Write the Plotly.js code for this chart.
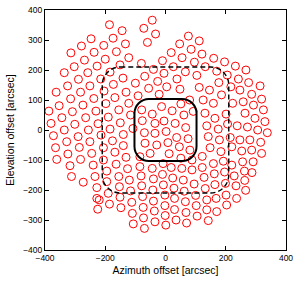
<!DOCTYPE html>
<html><head><meta charset="utf-8">
<script src="https://cdn.plot.ly/plotly-3.0.1.min.js"></script>
<style>html,body{margin:0;padding:0;background:#fff}#chart{width:299px;height:284px}</style>
</head><body><div id="chart"></div>
<script>
// Beam offsets [arcsec]
const azimuth = [
  -186,-44,-72,-144,-33,-247,-174,-60,-279,-205,-133,-314,-237,-163,-269,-200,-122,-303,-227,-151,-80,-10,-336,-258,-184,-40,-5,-289,-215,-141,-69,-100,-26,-325,-251,-173,-363,-282,-204,-131,-56,-21,-91,-315,-238,-168,-353,-274,-198,-122,-387,-309,-231,-155,-344,-265,-190,-116,-380,-301,-224,-150,
  -336,-256,-184,-372,-290,-214,-140,-328,-251,-176,-140,-365,-286,-206,-324,-245,-168,-131,-361,-282,-206,-317,-240,-164,-126,-312,-234,-195,-155,-273,-195,-228,-190,-153,-228,-220,-186,-151,-148,-225,-120,
  -116,-112,-110,-107,-85,-81,-79,-76,-74,-73,-70,-44,-40,-42,-40,-37,-35,-8,-10,-7,-2,-2,-1,1,
  19,24,28,30,30,35,54,59,62,66,68,70,88,95,100,102,105,122,128,132,137,137,142,159,162,164,168,170,192,196,199,201,203,220,228,234,236,256,262,263,266,291,287,
  122,148,184,220,253,286,319,142,179,215,247,280,316,137,175,206,238,272,306,338,131,164,201,264,297,330,125,159,223,258,292,325,186,146,247,286,319,217,112,314,276,
  76,112,47,85,19,121,55,160,196,96,26,132,232,267,66,170,205,104,38,242,177,48,4,80,
  -79,-44,-13,22,51,61,92,-77,-35,-5,32,67,-70,-35,2,37,75,8,-68,-29,46,81,-51,12,51,88,-85,-108
];
const elevation = [
  351,366,339,331,320,304,306,292,280,282,287,257,259,261,233,236,241,211,213,217,222,231,191,191,193,202,189,169,170,173,179,156,162,147,147,152,126,126,130,126,139,119,114,104,105,108,81,83,88,89,63,61,63,67,41,41,43,50,22,19,21,24,
  0,0,3,-19,-22,-17,-15,-39,-39,-36,-52,-59,-58,-59,-80,-78,-74,-91,-98,-98,-100,-119,-117,-114,-129,-155,-155,-137,-155,-174,-172,-192,-211,-189,-228,-233,-247,-224,-259,-264,-167,
  -203,-241,-278,-313,-122,-153,-186,-222,-258,-293,-328,-128,-163,-200,-237,-270,-306,-112,-148,-183,-217,-252,-285,-317,
  -125,-160,-194,-228,-265,-300,-128,-167,-204,-239,-275,-310,-133,-180,-218,-252,-287,-125,-158,-195,-233,-266,-302,-112,-146,-182,-228,-272,-104,-140,-178,-217,-250,-117,-153,-186,-228,-106,-137,-168,-201,-106,-142,
  -88,-59,-72,-56,-70,-67,-78,-22,-33,-25,-33,-33,-41,14,3,20,14,10,0,-9,56,39,53,56,39,28,100,89,89,94,83,67,117,133,133,119,103,144,142,147,158,
  313,297,287,269,258,253,241,239,227,226,211,211,213,200,194,196,183,182,170,170,158,136,144,100,
  67,53,78,64,87,50,62,31,22,30,22,8,-9,-11,-5,-25,-29,-42,-44,-50,-56,-67,-78,-79,-94,-100,-89,5
];
// Two rounded-square fields: inner (solid) and outer (dashed)
const boxHalfSize = [103, 210];
const boxCornerRadius = [48, 60];
const boxDash = ['solid', '5px,3px'];
const boxLineWidth = [2, 1.4];
const xTickValues = [-400, -200, 0, 200, 400];
const yTickValues = [-400, -300, -200, -100, 0, 100, 200, 300, 400];

function roundedSquarePath(h, r) {
  const k = 0.5523 * r;
  return [
    `M ${-h + r},${h}`, `L ${h - r},${h}`,
    `C ${h - r + k},${h} ${h},${h - r + k} ${h},${h - r}`,
    `L ${h},${-h + r}`,
    `C ${h},${-h + r - k} ${h - r + k},${-h} ${h - r},${-h}`,
    `L ${-h + r},${-h}`,
    `C ${-h + r - k},${-h} ${-h},${-h + r - k} ${-h},${-h + r}`,
    `L ${-h},${h - r}`,
    `C ${-h},${h - r + k} ${-h + r - k},${h} ${-h + r},${h}`, 'Z'
  ].join(' ');
}

const shapes = boxHalfSize.map((h, i) => ({
  type: 'path', xref: 'x', yref: 'y', layer: 'above',
  path: roundedSquarePath(h, boxCornerRadius[i]),
  line: {color: '#000', width: boxLineWidth[i], dash: boxDash[i]}
}));

const font = {family: 'Liberation Sans, Arial, sans-serif', color: '#000'};
const axisCommon = {
  ticks: 'inside', ticklen: 4, tickcolor: '#000', tickwidth: 1,
  showline: true, linecolor: '#000', linewidth: 1, mirror: 'ticks',
  showgrid: false, zeroline: false, fixedrange: true,
  tickfont: Object.assign({size: 8.5}, font)
};

const trace = {
  x: azimuth, y: elevation, type: 'scatter', mode: 'markers',
  marker: {symbol: 'circle-open', size: 8, color: 'rgb(255,0,0)', line: {width: 1, color: 'rgb(255,0,0)'}},
  hoverinfo: 'skip'
};

const layout = {
  width: 299, height: 284,
  margin: {l: 45, r: 13, t: 10, b: 34},
  paper_bgcolor: '#fff', plot_bgcolor: '#fff', showlegend: false,
  font: font,
  xaxis: Object.assign({}, axisCommon, {
    range: [-400, 400], tickvals: xTickValues,
    title: {text: 'Azimuth offset [arcsec]', font: Object.assign({size: 10.5}, font), standoff: 4}
  }),
  yaxis: Object.assign({}, axisCommon, {
    range: [-400, 400], tickvals: yTickValues,
    title: {text: 'Elevation offset [arcsec]', font: Object.assign({size: 10.5}, font), standoff: 6}
  }),
  shapes: shapes
};

Plotly.newPlot('chart', [trace], layout, {staticPlot: true, displayModeBar: false});
</script></body></html>
